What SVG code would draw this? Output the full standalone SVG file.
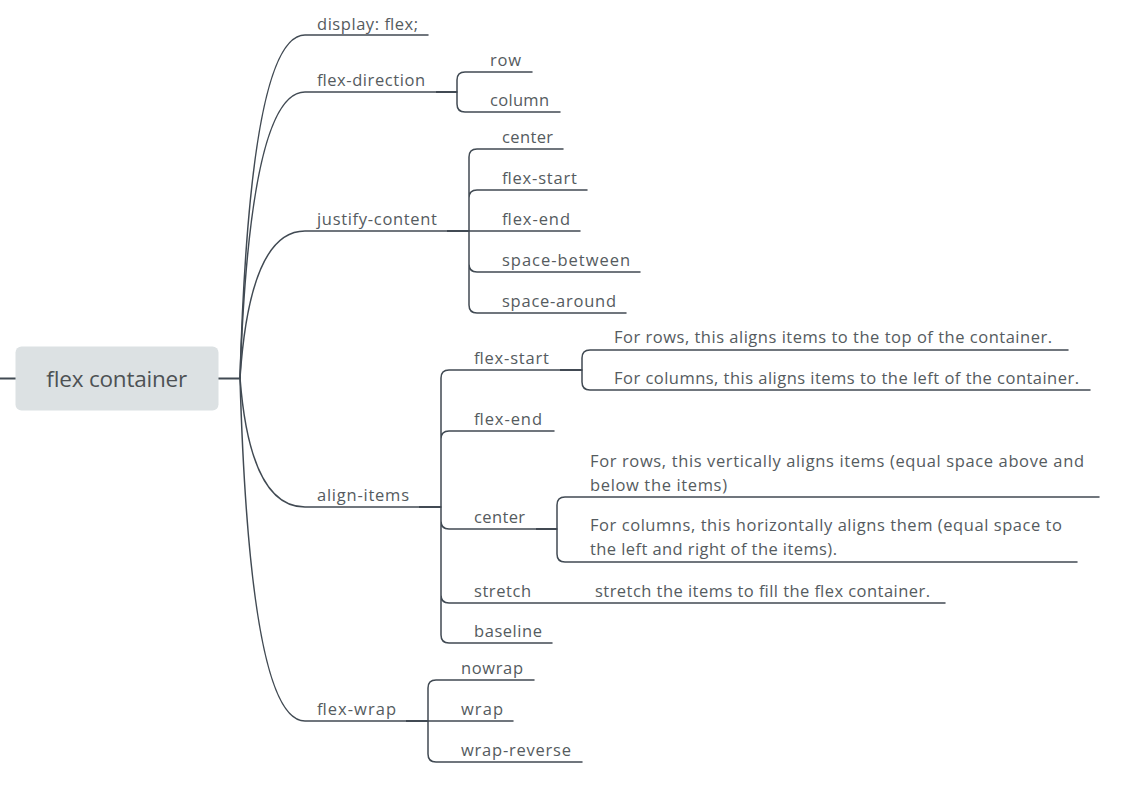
<svg xmlns="http://www.w3.org/2000/svg" width="1144" height="792" viewBox="0 0 1144 792">
<style>
.t{font-family:"Open Sans","Noto Sans","DejaVu Sans",sans-serif;font-size:16.5px;fill:#555b60}
.c{fill:none;stroke:#414a53;stroke-width:1.5;stroke-linecap:round}
.k{fill:none;stroke:#414a53;stroke-width:2.2}
.rt{font-family:"Open Sans","Noto Sans","DejaVu Sans",sans-serif;font-size:22.5px;fill:#4d5154}
</style>
<rect width="1144" height="792" fill="#ffffff"/>
<g id="connectors">
<path class="k" d="M0 378.5H16M218 378.5H240" stroke-width="3"/>
<path class="c" d="M240 378 Q250 35 305 35H428"/>
<path class="c" d="M240 378 Q250 92 305 92H457"/>
<path class="c" d="M240 378 Q250 231 305 231H469"/>
<path class="c" d="M240 378 Q250 507 305 507H441"/>
<path class="c" d="M240 378 Q250 721 305 721H428"/>
<path class="k" d="M436 92H457M447 231H469M419 507H441M406 721H428M560 370H582M536 529H557"/>
<path class="c" d="M457 92V80Q457 72 465 72H532M457 92V104Q457 112 465 112H560"/>
<path class="c" d="M469 231V157Q469 149 477 149H563M469 231V198Q469 190 477 190H587M469 231H580M469 231V264Q469 272 477 272H640M469 231V305Q469 313 477 313H626"/>
<path class="c" d="M441 507V378Q441 370 449 370H582M441 507V439Q441 431 449 431H554M441 507V521Q441 529 449 529H557M441 507V595Q441 603 449 603H945M441 507V635Q441 643 449 643H552"/>
<path class="c" d="M582 370V358Q582 350 590 350H1068M582 370V382Q582 390 590 390H1090"/>
<path class="c" d="M557 529V505Q557 497 565 497H1099M557 529V554Q557 562 565 562H1077"/>
<path class="c" d="M428 721V688Q428 680 436 680H534M428 721H513M428 721V754Q428 762 436 762H582"/>
</g>
<g id="root">
<rect x="15.5" y="346.5" width="203" height="64" rx="6" fill="#dce1e3"/>
<text class="rt" x="46" y="386.5" textLength="141">flex container</text>
</g>
<g id="display"><text class="t" x="317" y="29.5" textLength="101">display: flex;</text></g>
<g id="flex-direction"><text class="t" x="317" y="86" textLength="108">flex-direction</text></g>
<g id="fd-row"><text class="t" x="490" y="66" textLength="31">row</text></g>
<g id="fd-column"><text class="t" x="490" y="106" textLength="59">column</text></g>
<g id="justify-content"><text class="t" x="317" y="225" textLength="120">justify-content</text></g>
<g id="jc-center"><text class="t" x="502" y="143" textLength="51">center</text></g>
<g id="jc-flex-start"><text class="t" x="502" y="184" textLength="75">flex-start</text></g>
<g id="jc-flex-end"><text class="t" x="502" y="225" textLength="68">flex-end</text></g>
<g id="jc-space-between"><text class="t" x="502" y="266" textLength="128">space-between</text></g>
<g id="jc-space-around"><text class="t" x="502" y="307" textLength="114">space-around</text></g>
<g id="align-items"><text class="t" x="317" y="501" textLength="92">align-items</text></g>
<g id="ai-flex-start"><text class="t" x="474" y="363.5" textLength="75">flex-start</text></g>
<g id="ai-fs-rows"><text class="t" x="614" y="343" textLength="438">For rows, this aligns items to the top of the container.</text></g>
<g id="ai-fs-columns"><text class="t" x="614" y="383.5" textLength="465">For columns, this aligns items to the left of the container.</text></g>
<g id="ai-flex-end"><text class="t" x="474" y="425" textLength="68">flex-end</text></g>
<g id="ai-center"><text class="t" x="474" y="523" textLength="51">center</text></g>
<g id="ai-c-rows"><text class="t" x="590" y="466.5" textLength="494">For rows, this vertically aligns items (equal space above and</text><text class="t" x="590" y="490.5" textLength="137">below the items)</text></g>
<g id="ai-c-columns"><text class="t" x="590" y="531" textLength="472">For columns, this horizontally aligns them (equal space to</text><text class="t" x="590" y="555" textLength="247">the left and right of the items).</text></g>
<g id="ai-stretch"><text class="t" x="474" y="597" textLength="57">stretch</text></g>
<g id="ai-stretch-desc"><text class="t" x="595" y="597" textLength="335">stretch the items to fill the flex container.</text></g>
<g id="ai-baseline"><text class="t" x="474" y="637" textLength="68">baseline</text></g>
<g id="flex-wrap"><text class="t" x="317" y="715" textLength="79">flex-wrap</text></g>
<g id="fw-nowrap"><text class="t" x="461" y="674" textLength="62">nowrap</text></g>
<g id="fw-wrap"><text class="t" x="461" y="715" textLength="42">wrap</text></g>
<g id="fw-wrap-reverse"><text class="t" x="461" y="756" textLength="110">wrap-reverse</text></g>
</svg>
